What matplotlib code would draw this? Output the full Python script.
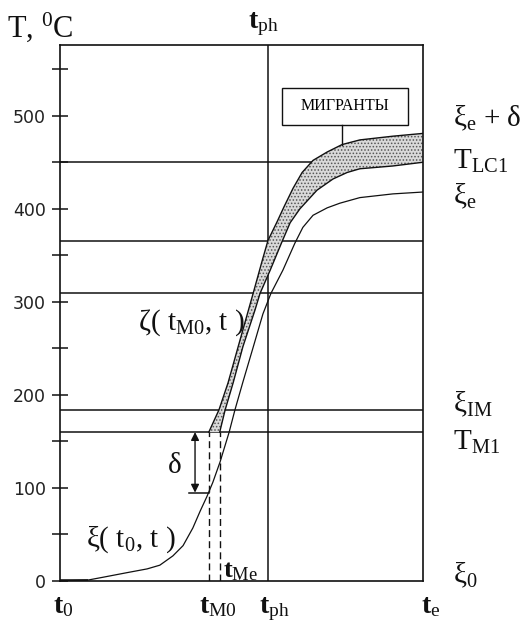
import matplotlib
matplotlib.use("Agg")
import matplotlib.pyplot as plt
from matplotlib.patches import Polygon, Rectangle

plt.rcParams['font.family'] = ['Liberation Serif', 'DejaVu Serif']
plt.rcParams['mathtext.fontset'] = 'custom'
plt.rcParams['mathtext.rm'] = 'Liberation Serif'
plt.rcParams['mathtext.it'] = 'Liberation Serif:italic'
plt.rcParams['mathtext.bf'] = 'Liberation Serif:bold'
plt.rcParams['hatch.linewidth'] = 0.7

# ---------------- data (time in arbitrary units 0..100, T in deg C) ----------------
# lower curve xi(t0, t)
t_xi = [0, 7.7, 11.8, 18.5, 24.0, 27.5, 31.1, 33.9, 36.6, 38.6, 40.5, 42.1, 44.1, 46.6,
        48.2, 50.4, 53.2, 55.9, 58.1, 61.4, 64.7, 66.9, 69.7, 73.6, 77.1, 82.6, 91.7, 100]
T_xi = [0, 1, 4, 9, 13, 17, 27, 38, 57, 75, 91, 106, 128, 160,
        184, 214, 251, 287, 309, 334, 363, 380, 393, 401, 406, 412, 416, 418]
# upper edge of migrant band (xi_e + delta)
t_up = [41.0, 43.8, 46.3, 49.6, 53.2, 55.9, 57.3, 59.8, 61.7, 64.2, 66.7, 69.7, 73.6,
        77.7, 82.6, 91.7, 100]
T_up = [160, 184, 213, 259, 309, 347, 366, 386, 402, 422, 439, 452, 461,
        469, 474, 478, 481]
# lower edge of migrant band
t_lo = [44.0, 45.5, 47.7, 50.4, 53.7, 55.1, 57.9, 61.2, 63.4, 66.1, 70.8, 75.2, 79.1,
        82.6, 91.7, 100]
T_lo = [160, 184, 213, 252, 291, 309, 334, 365, 385, 400, 420, 432, 439,
        443, 446, 450]
# horizontal levels
levels = [160, 184, 309, 365, 450]
# characteristic times
t_M0 = 41.0
t_Me = 44.0
t_ph = 57.3
t_flat = 7.7
delta_low = 95
y_ticks = [0, 100, 200, 300, 400, 500]
y_minor = [50, 150, 250, 350, 450, 550]
y_ticklabels = ['0', '100', '200', '300', '400', '500']

# ---------------- figure ----------------
W, H = 524, 630
fig = plt.figure(figsize=(W / 100, H / 100), dpi=100)
ax = fig.add_axes([60 / W, 1 - 581 / H, 363 / W, 536 / H])
ax.set_xlim(0, 100)
ax.set_ylim(0, 576)

lc = '#111111'
for s in ax.spines.values():
    s.set_color(lc)
    s.set_linewidth(1.2)

ax.set_xticks([])
ax.set_yticks(y_ticks)
ax.set_yticklabels(y_ticklabels)
ax.set_yticks(y_minor, minor=True)
ax.tick_params(axis='y', which='both', direction='inout', length=12, width=1.1,
               color=lc, pad=4, labelsize=12.5)
for lab in ax.get_yticklabels():
    lab.set_fontfamily('DejaVu Sans')
    lab.set_color('#222222')

# levels
for lv in levels:
    ax.axhline(lv, color=lc, lw=1.1)
ax.axvline(t_ph, color=lc, lw=1.1)

# band
band_x = t_up + t_lo[::-1]
band_y = T_up + T_lo[::-1]
ax.add_patch(Polygon(list(zip(band_x, band_y)), closed=True, facecolor='#d9d9d9',
                     edgecolor='none', zorder=2))
ax.add_patch(Polygon(list(zip(band_x, band_y)), closed=True, fill=False,
                     edgecolor='#555555', hatch='.....', linewidth=0, zorder=2))
ax.plot(t_up, T_up, color=lc, lw=1.0, zorder=3)
ax.plot(t_lo, T_lo, color=lc, lw=1.0, zorder=3)

# xi curve
ax.plot(t_xi, T_xi, color=lc, lw=0.9, zorder=3)
ax.plot([0, t_flat], [0, 0], color=lc, lw=2.6, zorder=4, solid_capstyle='butt')

# dashed verticals
for tv in (t_M0, t_Me):
    ax.plot([tv, tv], [0, levels[0]], color=lc, lw=1.0, ls=(0, (5, 3)), zorder=3)

# delta arrow
ax.annotate('', xy=(37.2, delta_low), xytext=(37.2, levels[0]),
            arrowprops=dict(arrowstyle='<|-|>', color=lc, lw=1.0,
                            mutation_scale=12, shrinkA=0, shrinkB=0))
ax.plot([35.6, t_M0], [delta_low, delta_low], color=lc, lw=1.1)

# migrant box
ax.add_patch(Rectangle((61.2, 490), 34.7, 40, facecolor='white', edgecolor=lc,
                       lw=1.0, zorder=5))
ax.text(78.5, 510, 'МИГРАНТЫ', ha='center', va='center', fontsize=11.5, zorder=6)
ax.plot([77.7, 77.7], [490, 469], color=lc, lw=1.0, zorder=5)


def ftext(x, y, s, size=20, **kw):
    fig.text(x / W, 1 - y / H, s, fontsize=size, va='baseline', ha='left', color='#111111', **kw)


ftext(7, 37, r'T, $^0$C', size=22)
ftext(248, 28, r'$\mathbf{t}_{\mathrm{ph}}$')
ftext(53, 613, r'$\mathbf{t}_{0}$')
ftext(199, 613, r'$\mathbf{t}_{\mathrm{M0}}$')
ftext(259, 613, r'$\mathbf{t}_{\mathrm{ph}}$')
ftext(421, 613, r'$\mathbf{t}_{\mathrm{e}}$')
ftext(223, 577, r'$\mathbf{t}_{\mathrm{Me}}$', size=19)
ftext(86, 547, r'ξ( t$_0$, t )', size=21)
ftext(138, 330, r'ζ( t$_{\mathrm{M0}}$, t )', size=21)
ftext(168, 473, 'δ', size=21)
ftext(453, 126, r'ξ$_{\mathrm{e}}$ + δ', size=21)
ftext(453, 169, r'T$_{\mathrm{LC1}}$', size=21)
ftext(453, 204, r'ξ$_{\mathrm{e}}$', size=21)
ftext(453, 412, r'ξ$_{\mathrm{IM}}$', size=21)
ftext(453, 450, r'T$_{\mathrm{M1}}$', size=21)
ftext(453, 583, r'ξ$_{0}$', size=21)

fig.savefig('out.png', dpi=100)
